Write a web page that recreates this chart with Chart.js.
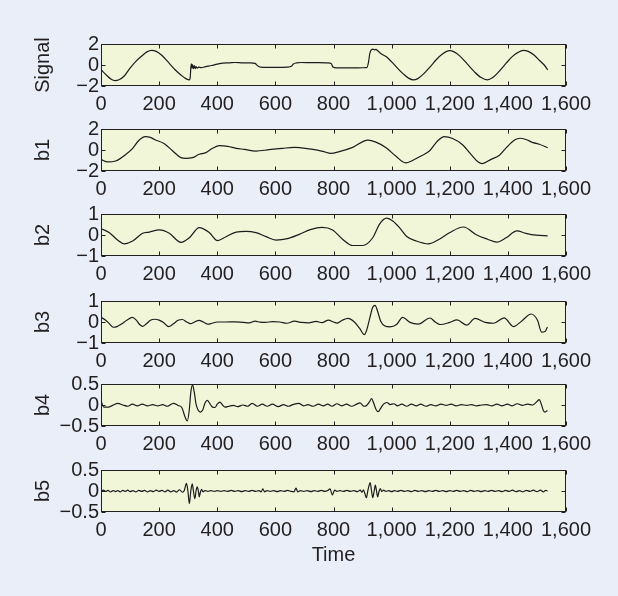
<!DOCTYPE html>
<html>
<head>
<meta charset="utf-8">
<script src="https://cdn.jsdelivr.net/npm/chart.js@4.4.1/dist/chart.umd.min.js"></script>
<style>
  body { margin: 0; background: #e9eef9; }
  #wrap { position: relative; width: 618px; height: 596px; }
  #wrap canvas { position: absolute; left: 0; }
</style>
</head>
<body>
<div id="wrap"></div>
<script>
// axis ticks and panel names
const timeTicks = [0, 200, 400, 600, 800, 1000, 1200, 1400, 1600];
const panelNames = ['Signal', 'b1', 'b2', 'b3', 'b4', 'b5'];
const panelLimits = [2, 2, 1, 1, 0.5, 0.5];

// values (time, value)
const signalT = [0, 20, 35, 48, 62, 80, 100, 120, 140, 158, 174, 190, 210, 235, 255, 275, 292, 304, 307, 309, 311, 313, 315, 318, 321, 324, 327, 331, 336, 345, 360, 380, 400, 420, 440, 460, 490, 515, 530, 540, 548, 580, 610, 640, 655, 662, 672, 690, 720, 750, 780, 792, 798, 810, 840, 870, 900, 915, 920, 925, 930, 936, 941, 946, 952, 965, 981, 1000, 1020, 1040, 1058, 1075, 1090, 1110, 1135, 1155, 1175, 1199, 1215, 1235, 1260, 1285, 1308, 1329, 1348, 1370, 1395, 1415, 1435, 1453, 1470, 1490, 1510, 1525, 1537];
const signalY = [-0.45, -1.0, -1.35, -1.48, -1.4, -1.05, -0.3, 0.35, 0.85, 1.25, 1.4, 1.3, 0.9, 0.15, -0.45, -0.95, -1.3, -1.42, -1.2, -0.3, 0.1, -0.3, 0.05, -0.35, -0.05, -0.35, -0.15, -0.3, -0.2, -0.25, -0.15, -0.05, 0.08, 0.18, 0.2, 0.24, 0.2, 0.2, 0.15, -0.1, -0.2, -0.22, -0.23, -0.2, -0.12, 0.1, 0.2, 0.24, 0.22, 0.22, 0.2, 0.15, -0.2, -0.28, -0.27, -0.27, -0.26, -0.25, 0.2, 1.1, 1.45, 1.52, 1.45, 1.48, 1.35, 1.05, 0.8, 0.3, -0.3, -0.85, -1.25, -1.42, -1.3, -0.85, -0.1, 0.55, 1.05, 1.36, 1.25, 0.85, 0.1, -0.65, -1.2, -1.42, -1.2, -0.6, 0.2, 0.8, 1.2, 1.39, 1.3, 0.95, 0.4, 0.0, -0.46];

const b1T = [0, 23, 50, 86, 109, 130, 152, 170, 184, 218, 247, 275, 292, 315, 338, 361, 384, 407, 436, 465, 493, 533, 579, 625, 665, 717, 763, 791, 820, 866, 918, 946, 981, 1015, 1048, 1075, 1101, 1130, 1158, 1181, 1210, 1244, 1273, 1298, 1312, 1342, 1371, 1394, 1423, 1442, 1462, 1487, 1508, 1537];
const b1Y = [-0.89, -1.14, -1.05, -0.4, 0.16, 0.9, 1.27, 1.2, 1.0, 0.6, -0.1, -0.73, -0.8, -0.73, -0.41, -0.25, 0.16, 0.41, 0.35, 0.16, 0.06, -0.1, 0.03, 0.16, 0.25, 0.1, -0.13, -0.33, -0.16, 0.25, 0.95, 0.75, 0.22, -0.6, -1.23, -0.95, -0.57, -0.1, 0.86, 1.28, 1.1, 0.5, -0.41, -1.15, -1.3, -0.89, -0.5, 0.2, 0.95, 1.12, 1.0, 0.7, 0.55, 0.22];

const b2T = [0, 29, 57, 80, 109, 143, 166, 201, 235, 275, 304, 338, 373, 401, 430, 465, 499, 533, 568, 602, 642, 682, 723, 760, 797, 832, 866, 900, 935, 958, 983, 1004, 1027, 1052, 1084, 1126, 1164, 1199, 1247, 1293, 1330, 1362, 1394, 1431, 1462, 1497, 1537];
const b2Y = [0.3, 0.11, -0.24, -0.42, -0.29, 0.08, 0.14, 0.24, 0.08, -0.35, -0.13, 0.35, 0.11, -0.27, -0.08, 0.14, 0.17, 0.11, -0.08, -0.24, -0.17, 0.03, 0.27, 0.36, 0.24, -0.21, -0.5, -0.5, -0.13, 0.51, 0.8, 0.67, 0.35, -0.07, -0.28, -0.42, -0.2, 0.11, 0.38, 0.0, -0.2, -0.34, -0.13, 0.2, 0.08, -0.01, -0.04];

const b3T = [0, 15, 30, 42, 55, 70, 90, 108, 122, 133, 143, 155, 170, 185, 200, 215, 233, 248, 265, 280, 295, 308, 322, 337, 352, 368, 382, 400, 430, 460, 490, 510, 530, 548, 565, 590, 615, 640, 665, 690, 715, 740, 760, 783, 800, 813, 830, 850, 870, 890, 906, 915, 925, 935, 943, 952, 962, 977, 994, 1017, 1038, 1063, 1092, 1132, 1150, 1167, 1200, 1225, 1258, 1287, 1322, 1351, 1387, 1419, 1448, 1480, 1502, 1516, 1528, 1536];
const b3Y = [0.22, 0.1, -0.1, -0.25, -0.22, -0.1, 0.1, 0.22, 0.08, -0.12, -0.21, -0.1, 0.08, 0.13, 0.09, -0.02, -0.22, -0.1, 0.08, 0.12, 0.0, -0.08, 0.0, 0.08, 0.0, -0.1, -0.06, 0.0, 0.0, 0.01, -0.02, -0.04, 0.04, -0.01, -0.02, 0.02, 0.0, -0.06, 0.04, -0.02, -0.04, 0.03, -0.03, 0.09, 0.0, -0.05, 0.08, 0.17, 0.02, -0.3, -0.6, -0.35, 0.2, 0.7, 0.79, 0.5, 0.05, -0.19, -0.23, -0.12, 0.22, -0.02, -0.1, 0.19, 0.0, -0.12, -0.02, 0.1, -0.15, 0.17, -0.02, -0.06, 0.2, -0.22, 0.05, 0.38, 0.08, -0.48, -0.45, -0.24];

const b4T = [0, 5, 10, 25, 40, 58, 75, 92, 108, 125, 142, 160, 178, 195, 212, 228, 249, 265, 278, 290, 297, 304, 309, 315, 321, 327, 334, 342, 350, 358, 366, 373, 382, 392, 400, 409, 418, 427, 440, 456, 470, 488, 505, 520, 538, 555, 572, 590, 610, 628, 645, 660, 680, 697, 712, 730, 748, 765, 780, 795, 812, 828, 845, 862, 880, 891, 905, 914, 924, 931, 938, 946, 954, 962, 972, 984, 995, 1008, 1020, 1035, 1052, 1068, 1085, 1100, 1118, 1135, 1152, 1170, 1188, 1205, 1222, 1240, 1258, 1275, 1292, 1310, 1328, 1345, 1362, 1380, 1398, 1415, 1432, 1450, 1468, 1485, 1500, 1508, 1515, 1522, 1528, 1536];
const b4Y = [0.12, 0.0, -0.05, -0.05, -0.01, 0.04, 0.0, -0.03, 0.02, -0.02, 0.02, -0.02, 0.01, -0.02, 0.01, -0.03, 0.04, -0.01, -0.06, -0.3, -0.38, -0.1, 0.3, 0.48, 0.3, 0.02, -0.12, -0.17, -0.12, 0.05, 0.11, 0.05, -0.04, -0.06, 0.02, 0.07, 0.0, -0.05, -0.03, -0.01, -0.04, 0.0, -0.03, 0.04, -0.03, 0.02, -0.03, 0.02, -0.04, 0.01, -0.03, 0.01, 0.04, -0.02, 0.01, -0.03, 0.02, -0.02, 0.02, -0.03, 0.03, -0.02, 0.02, -0.03, 0.02, 0.05, -0.03, -0.01, 0.08, 0.15, 0.05, -0.1, -0.16, -0.08, 0.02, 0.06, 0.01, 0.03, -0.02, 0.02, -0.03, 0.02, -0.02, 0.02, -0.03, 0.01, -0.02, 0.02, -0.01, 0.02, -0.02, 0.01, -0.01, 0.01, -0.02, 0.0, 0.01, -0.02, 0.02, -0.02, 0.02, -0.02, 0.03, -0.01, 0.02, 0.0, 0.08, 0.13, 0.02, -0.13, -0.17, -0.13];

const b5T = [0, 8, 16, 24, 33, 42, 50, 58, 66, 75, 84, 92, 100, 110, 120, 130, 140, 150, 160, 170, 180, 190, 200, 210, 220, 230, 240, 250, 260, 270, 280, 287, 294, 299, 304, 309, 314, 318, 323, 327, 331, 335, 338, 342, 346, 351, 358, 368, 378, 390, 400, 412, 424, 436, 448, 460, 472, 484, 496, 508, 520, 532, 544, 551, 557, 563, 571, 582, 594, 606, 618, 630, 642, 654, 664, 671, 677, 686, 698, 710, 722, 734, 746, 758, 770, 780, 788, 796, 804, 812, 822, 834, 846, 858, 870, 882, 892, 898, 903, 908, 913, 918, 922, 926, 931, 935, 940, 944, 948, 952, 957, 961, 966, 972, 980, 990, 1000, 1010, 1020, 1032, 1044, 1056, 1068, 1080, 1092, 1104, 1116, 1128, 1140, 1152, 1164, 1176, 1188, 1200, 1212, 1224, 1236, 1248, 1260, 1272, 1284, 1296, 1308, 1320, 1332, 1344, 1356, 1368, 1380, 1392, 1404, 1416, 1428, 1440, 1452, 1464, 1476, 1488, 1500, 1512, 1522, 1530, 1537];
const b5Y = [0.0, 0.02, -0.01, 0.015, -0.02, 0.01, -0.015, 0.01, -0.02, 0.015, -0.01, 0.02, -0.015, 0.01, -0.02, 0.015, -0.01, 0.015, -0.02, 0.01, -0.015, 0.02, -0.01, 0.015, -0.02, 0.02, -0.02, 0.01, -0.025, 0.03, -0.03, 0.02, 0.18, 0.0, -0.3, 0.0, 0.17, 0.0, -0.18, 0.0, 0.1, 0.0, -0.14, -0.03, 0.04, -0.02, 0.01, -0.01, 0.01, -0.01, 0.01, -0.01, 0.01, -0.01, 0.015, -0.01, 0.01, -0.015, 0.01, -0.01, 0.015, -0.01, 0.01, -0.02, 0.05, -0.02, 0.01, -0.01, 0.01, -0.015, 0.01, -0.01, 0.015, -0.01, -0.02, 0.07, -0.02, 0.01, -0.01, 0.01, -0.015, 0.01, -0.01, 0.015, -0.01, 0.01, 0.05, -0.09, 0.02, -0.01, 0.01, -0.01, 0.015, -0.01, 0.01, -0.015, 0.02, -0.03, 0.03, -0.06, -0.16, 0.0, 0.12, 0.2, 0.0, -0.16, 0.0, 0.14, 0.0, -0.14, 0.0, 0.06, -0.01, 0.02, -0.01, 0.01, -0.015, 0.01, -0.01, 0.015, -0.01, 0.01, -0.015, 0.015, -0.01, 0.01, -0.015, 0.01, -0.01, 0.015, -0.01, 0.01, -0.015, 0.01, -0.01, 0.015, -0.01, 0.01, -0.015, 0.015, -0.01, 0.01, -0.015, 0.01, -0.01, 0.015, -0.01, 0.01, -0.015, 0.015, -0.01, 0.02, -0.015, 0.01, -0.02, 0.015, -0.01, 0.02, -0.015, 0.02, -0.02, 0.015, 0.0];

const seriesT = [signalT, b1T, b2T, b3T, b4T, b5T];
const seriesY = [signalY, b1Y, b2Y, b3Y, b4Y, b5Y];

// layout of the six panels (pixel tops of each plot box)
const panelTops = [44, 129, 214, 301, 384, 470];
const boxH = 42;
const padTop = 15;
const ink = '#231f20';

Chart.defaults.font.family = "'Liberation Sans', Arial, Helvetica, sans-serif";
Chart.defaults.font.size = 20;
Chart.defaults.color = ink;

function minusFmt(v) {
  return v < 0 ? '\u2212' + (-v) : String(v);
}

// plot box fill, frame, inward ticks and the rotated panel label
const framePlugin = {
  id: 'frame',
  beforeDraw(chart, args, opts) {
    const a = chart.chartArea, ctx = chart.ctx;
    ctx.save();
    ctx.fillStyle = '#f1f6d8';
    ctx.fillRect(a.left, a.top, a.right - a.left, a.bottom - a.top);
    ctx.restore();
  },
  afterDraw(chart, args, opts) {
    const a = chart.chartArea, ctx = chart.ctx;
    const xs = chart.scales.x, ys = chart.scales.y;
    const L = Math.round(a.left) + 0.5, R = Math.round(a.right) - 0.5;
    const T = Math.round(a.top) + 0.5, B = Math.round(a.bottom) - 0.5;
    ctx.save();
    ctx.strokeStyle = ink;
    ctx.lineWidth = 1;
    ctx.strokeRect(L, T, R - L, B - T);
    ctx.beginPath();
    timeTicks.forEach(v => {
      const p = Math.round(xs.getPixelForValue(v)) + 0.5;
      ctx.moveTo(p, B); ctx.lineTo(p, B - 4);
      ctx.moveTo(p, T); ctx.lineTo(p, T + 4);
    });
    ys.ticks.forEach(t => {
      const p = Math.round(ys.getPixelForValue(t.value)) + 0.5;
      ctx.moveTo(L, p); ctx.lineTo(L + 4, p);
      ctx.moveTo(R, p); ctx.lineTo(R - 4, p);
    });
    ctx.stroke();
    ctx.translate(43, (a.top + a.bottom) / 2);
    ctx.rotate(-Math.PI / 2);
    ctx.fillStyle = ink;
    ctx.font = "20px 'Liberation Sans', Arial, sans-serif";
    ctx.textAlign = 'center';
    ctx.textBaseline = 'middle';
    ctx.fillText(opts.label, 0, 0);
    ctx.restore();
  }
};

const wrap = document.getElementById('wrap');

panelNames.forEach((name, i) => {
  const last = i === panelNames.length - 1;
  const xH = last ? 70 : 33;
  const h = padTop + boxH + xH;
  const canvas = document.createElement('canvas');
  canvas.width = 618;
  canvas.height = h;
  canvas.style.top = (panelTops[i] - padTop) + 'px';
  wrap.appendChild(canvas);

  const lim = panelLimits[i];
  const pts = seriesT[i].map((t, k) => ({ x: t, y: seriesY[i][k] }));

  new Chart(canvas, {
    type: 'line',
    data: {
      datasets: [{
        data: pts,
        borderColor: '#1c1c1c',
        borderWidth: 1.2,
        pointRadius: 0,
        fill: false,
        cubicInterpolationMode: 'monotone'
      }]
    },
    options: {
      responsive: false,
      animation: false,
      events: [],
      layout: { padding: { top: padTop, right: 52, left: 0, bottom: 0 } },
      plugins: {
        legend: { display: false },
        tooltip: { enabled: false },
        frame: { label: name }
      },
      scales: {
        x: {
          type: 'linear',
          min: 0,
          max: 1600,
          grid: { display: false, drawTicks: false },
          border: { display: false },
          ticks: {
            stepSize: 200,
            autoSkip: false,
            maxRotation: 0,
            padding: 6,
            callback: v => v.toLocaleString('en-US')
          },
          title: {
            display: last,
            text: 'Time',
            padding: { top: 0, bottom: 15 }
          },
          afterFit: s => { s.height = xH; }
        },
        y: {
          min: -lim,
          max: lim,
          grid: { display: false, drawTicks: false },
          border: { display: false },
          ticks: {
            stepSize: lim,
            autoSkip: false,
            padding: 2,
            callback: minusFmt
          },
          afterFit: s => { s.width = 101; }
        }
      }
    },
    plugins: [framePlugin]
  });
});
</script>
</body>
</html>
